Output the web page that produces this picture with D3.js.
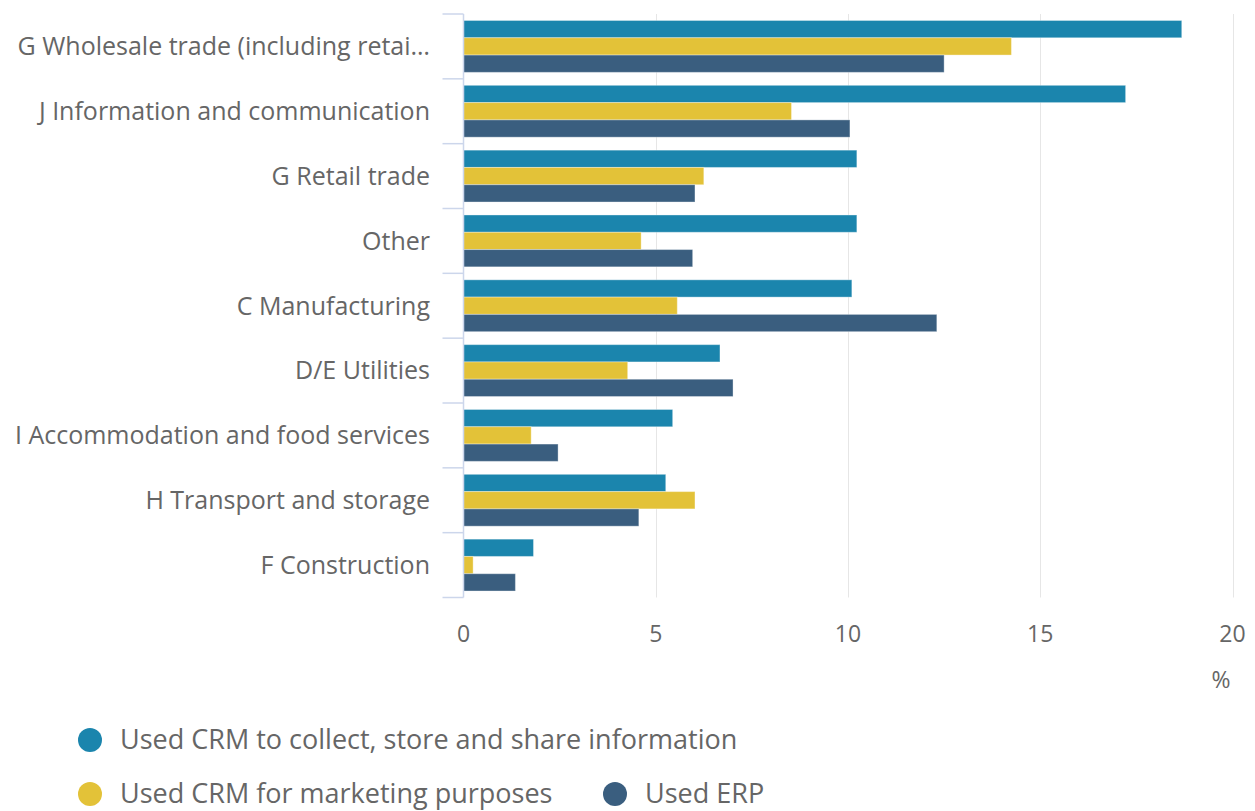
<!DOCTYPE html>
<html>
<head>
<meta charset="utf-8">
<script src="https://cdn.jsdelivr.net/npm/d3@7/dist/d3.min.js"></script>
<style>
  html, body { margin: 0; padding: 0; background: #fff; }
  svg { display: block; font-family: "Open Sans", "Noto Sans", sans-serif; }
</style>
</head>
<body>
<svg id="chart" width="1255" height="811"></svg>
<script>
const categories = [
  "G Wholesale trade (including retai…",
  "J Information and communication",
  "G Retail trade",
  "Other",
  "C Manufacturing",
  "D/E Utilities",
  "I Accommodation and food services",
  "H Transport and storage",
  "F Construction"
];
const seriesNames = [
  "Used CRM to collect, store and share information",
  "Used CRM for marketing purposes",
  "Used ERP"
];
const crmCollect = [18.68, 17.22, 10.23, 10.23, 10.10, 6.67, 5.44, 5.26, 1.82];
const crmMarketing = [14.25, 8.53, 6.25, 4.62, 5.56, 4.27, 1.76, 6.02, 0.25];
const erp = [12.50, 10.05, 6.02, 5.96, 12.31, 7.01, 2.46, 4.56, 1.35];
const xTicks = [0, 5, 10, 15, 20];
const colors = ["#1b85ad", "#e3c238", "#3a5e7f"];

(function () {
const seriesValues = [crmCollect, crmMarketing, erp];

const svg = d3.select("#chart");
const pLeft = 463.5, pRight = 1232.5, pTop = 14, pBottom = 597.5;

const x = d3.scaleLinear().domain([0, 20]).range([pLeft, pRight]);
const y = d3.scaleBand().domain(categories).range([pTop, pBottom]).paddingInner(0).paddingOuter(0);
const groupPad = y.bandwidth() * 0.1;
const sub = d3.scaleBand().domain([0, 1, 2]).range([groupPad, y.bandwidth() - groupPad]);

// gridlines
svg.append("g").selectAll("line").data(xTicks.filter(d => d > 0)).join("line")
  .attr("x1", d => Math.round(x(d)) + 0.5).attr("x2", d => Math.round(x(d)) + 0.5)
  .attr("y1", pTop).attr("y2", pBottom)
  .attr("stroke", "#e6e6e6").attr("stroke-width", 1);

// bars
const groups = svg.append("g").selectAll("g").data(categories).join("g")
  .attr("transform", d => `translate(0,${y(d)})`);
groups.selectAll("rect").data((c, i) => seriesValues.map((s, k) => ({k, v: s[i]}))).join("rect")
  .attr("x", x(0))
  .attr("y", d => sub(d.k))
  .attr("width", d => x(d.v) - x(0))
  .attr("height", sub.bandwidth())
  .attr("fill", d => colors[d.k])
  .attr("stroke", "rgba(255,255,255,0.35)")
  .attr("stroke-width", 1);

// y axis line and ticks
const yAxisG = svg.append("g");
yAxisG.append("line")
  .attr("x1", pLeft).attr("x2", pLeft).attr("y1", pTop).attr("y2", pBottom)
  .attr("stroke", "#ccd6eb").attr("stroke-width", 1.5);
const boundaries = categories.map(c => y(c)).concat([pBottom]);
yAxisG.selectAll("line.tick").data(boundaries).join("line")
  .attr("class", "tick")
  .attr("x1", pLeft - 21).attr("x2", pLeft).attr("y1", d => d).attr("y2", d => d)
  .attr("stroke", "#ccd6eb").attr("stroke-width", 1.5);

// category labels
svg.append("g").selectAll("text").data(categories).join("text")
  .attr("x", 430)
  .attr("y", d => y(d) + y.bandwidth() / 2)
  .attr("dy", "0.35em")
  .attr("text-anchor", "end")
  .attr("fill", "#666666")
  .attr("font-size", 25)
  .text(d => d);

// x tick labels
svg.append("g").selectAll("text").data(xTicks).join("text")
  .attr("x", d => x(d))
  .attr("y", 642)
  .attr("text-anchor", "middle")
  .attr("fill", "#666666")
  .attr("font-size", 23)
  .text(d => d);

svg.append("text")
  .attr("x", 1221).attr("y", 688)
  .attr("text-anchor", "middle")
  .attr("fill", "#666666")
  .attr("font-size", 23)
  .text("%");

// legend
const legendItems = [
  {k: 0, cx: 90, cy: 740, tx: 120},
  {k: 1, cx: 90, cy: 794, tx: 120},
  {k: 2, cx: 615, cy: 794, tx: 645}
];
const lg = svg.append("g").selectAll("g").data(legendItems).join("g");
lg.append("circle")
  .attr("cx", d => d.cx).attr("cy", d => d.cy).attr("r", 12)
  .attr("fill", d => colors[d.k]);
lg.append("text")
  .attr("x", d => d.tx).attr("y", d => d.cy)
  .attr("dy", "0.35em")
  .attr("fill", "#666666")
  .attr("font-size", 27)
  .text(d => seriesNames[d.k]);
})();
</script>
</body>
</html>
